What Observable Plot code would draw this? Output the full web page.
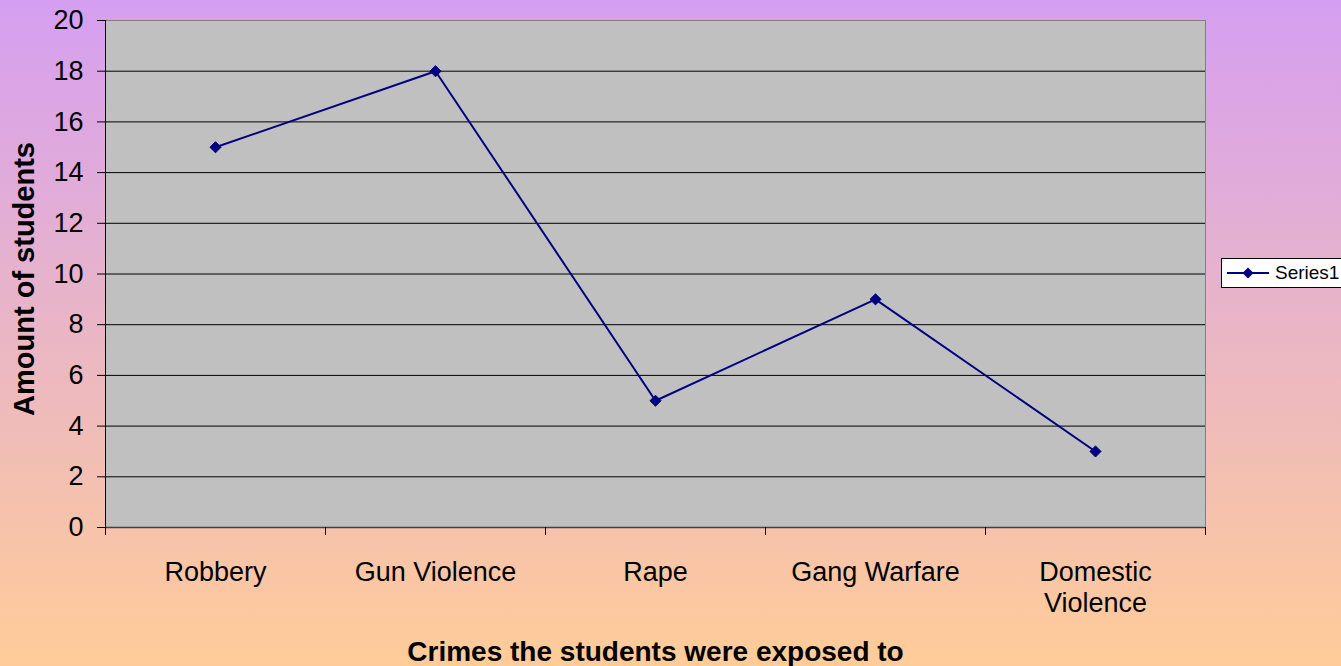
<!DOCTYPE html>
<html><head><meta charset="utf-8">
<script src="https://cdn.jsdelivr.net/npm/d3@7"></script>
<script src="https://cdn.jsdelivr.net/npm/@observablehq/plot@0.6"></script>
<style>
html,body{margin:0;padding:0;overflow:hidden;width:1341px;height:666px;}
#wrap{position:relative;width:1341px;height:666px;font-family:"Liberation Sans",Arial,sans-serif;}
#legend{position:absolute;left:1221px;top:258px;width:140px;height:30px;background:#fff;border:1px solid #000;box-sizing:border-box;}
#legend svg{position:absolute;left:0;top:0;}
#legend span{position:absolute;left:53px;top:4px;font-size:19px;line-height:20px;color:#000;}
</style></head><body><div id="wrap"></div>
<script>
const categories = ["Robbery", "Gun Violence", "Rape", "Gang Warfare", "Domestic Violence"];
const tickLabels = ["Robbery", "Gun Violence", "Rape", "Gang Warfare", "Domestic\nViolence"];
const values = [15, 18, 5, 9, 3];
const yTicks = [0, 2, 4, 6, 8, 10, 12, 14, 16, 18, 20];
const seriesName = "Series1";
const xTitle = "Crimes the students were exposed to";
const yTitle = "Amount of students";

const data = categories.map((c, i) => ({category: c, index: i, value: values[i]}));
const bounds = d3.range(categories.length + 1);
const centers = categories.map((c, i) => i + 0.5);
const lineColor = "#000080";

const chart = Plot.plot({
  width: 1341,
  height: 666,
  marginLeft: 105,
  marginTop: 20,
  marginRight: 136,
  marginBottom: 139,
  style: {
    background: "linear-gradient(to bottom, #d59ff1 0%, #eab6c5 50%, #ffcc99 100%)",
    fontFamily: "'Liberation Sans', Arial, sans-serif",
    color: "#000",
    overflow: "visible"
  },
  x: {type: "linear", domain: [0, categories.length]},
  y: {domain: [0, 20]},
  marks: [
    Plot.frame({fill: "#c0c0c0", stroke: "#808080"}),
    Plot.gridY(yTicks.filter(t => t > 0 && t < 20), {stroke: "#000", strokeOpacity: 1}),
    Plot.ruleX([0], {stroke: "#000"}),
    Plot.ruleY([0], {stroke: "#404040", strokeWidth: 1.5}),
    Plot.axisY(yTicks, {
      tickSize: 8, tickPadding: 14, fontSize: 27, stroke: "#000",
      label: yTitle, labelAnchor: "center", labelArrow: "none", labelOffset: 92
    }),
    Plot.axisX(bounds, {tickSize: 8, tickFormat: () => "", stroke: "#000", label: null}),
    Plot.axisX(centers, {
      tickSize: 0, tickPadding: 32, fontSize: 27, lineHeight: 1.13,
      tickFormat: (d) => tickLabels[Math.floor(d)],
      label: xTitle, labelAnchor: "center", labelArrow: "none", labelOffset: 133
    }),
    Plot.line(data, {x: d => d.index + 0.5, y: "value", stroke: lineColor, strokeWidth: 2}),
    Plot.dot(data, {x: d => d.index + 0.5, y: "value", symbol: "diamond2", r: 5, fill: lineColor, stroke: lineColor, strokeWidth: 1})
  ]
});

// bold axis titles
const yLab = chart.querySelector("g[aria-label='y-axis label']");
if (yLab) {
  yLab.setAttribute("font-weight", "bold");
  yLab.setAttribute("font-size", "29");
  const t = yLab.getAttribute("transform") || "";
  yLab.setAttribute("transform", (t + " translate(0,5)").trim());
}
const xLab = chart.querySelector("g[aria-label='x-axis label']");
if (xLab) {
  xLab.setAttribute("font-weight", "bold");
  xLab.setAttribute("font-size", "28");
}

const wrap = document.getElementById("wrap");
wrap.appendChild(chart);

const legend = document.createElement("div");
legend.id = "legend";
legend.innerHTML = `<svg width="52" height="28"><line x1="5" x2="47" y1="14" y2="14" stroke="${lineColor}" stroke-width="2"/><path d="M26,8.5L31.5,14L26,19.5L20.5,14Z" fill="${lineColor}"/></svg><span>${seriesName}</span>`;
wrap.appendChild(legend);
</script>
</body></html>
